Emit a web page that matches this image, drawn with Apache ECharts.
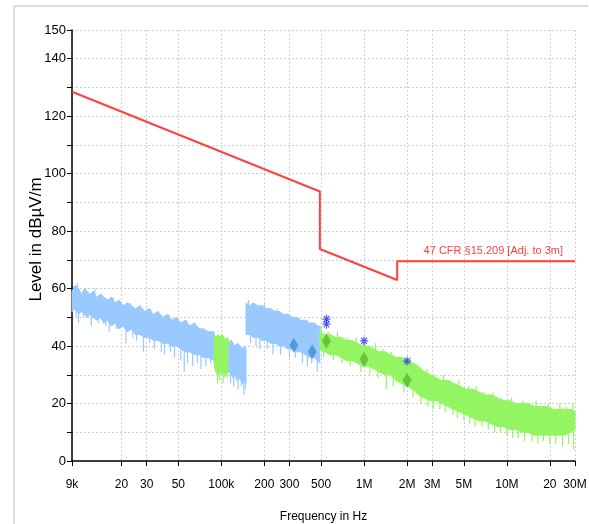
<!DOCTYPE html>
<html><head><meta charset="utf-8">
<script src="https://cdn.jsdelivr.net/npm/echarts@6/dist/echarts.min.js"></script>
<style>html,body{margin:0;padding:0;background:#fff;overflow:hidden;}#c{width:589px;height:524px;}</style>
</head><body><div id="c"></div>
<script>
// ---- axis ticks ----
const xTickFreqs  = [9e3, 2e4, 3e4, 5e4, 1e5, 2e5, 3e5, 5e5, 1e6, 2e6, 3e6, 5e6, 1e7, 2e7, 3e7];
const xTickLabels = ['9k','20','30','50','100k','200','300','500','1M','2M','3M','5M','10M','20','30M'];
const yLabelValues = [0, 20, 40, 60, 80, 100, 120, 140, 150];

// ---- limit line (Hz, dBµV/m) ----
const limitFreqs  = [9e3, 490e3, 490e3, 1705e3, 1705e3, 30e6];
const limitLevels = [128.5, 93.8, 73.8, 63.0, 69.5, 69.5];
const limitName = '47 CFR §15.209 [Adj. to 3m]';

// ---- measured spectrum envelopes (kHz, dBµV/m) ----
const blueAFreq = [9, 9.5, 10, 10.5, 11, 11.5, 12, 12.7, 13.4, 14.2, 15, 16, 17, 18, 19.2, 20.5, 22, 23.5, 25, 27, 29, 31, 33.5, 36, 39, 42, 45, 48.5, 52, 56, 60, 65, 70, 75, 81, 89];
const blueAHi   = [59, 61, 60, 58, 60, 59, 58, 59, 57, 58, 57, 56, 57, 55, 56, 54, 55, 54, 53, 54, 52, 53, 51, 52, 50, 51, 49, 50, 48, 49, 47, 48, 46, 46, 45, 45];
const blueALo   = [52, 53, 51, 52, 51, 50, 51, 50, 49, 50, 48, 49, 47, 48, 46, 47, 45, 46, 44, 44, 43, 43, 42, 42, 41, 41, 40, 40, 39, 38, 38, 37, 37, 36, 36, 35];

const greenBFreq = [89, 92, 95, 98, 101, 104, 107, 110, 113];
const greenBHi   = [44, 43, 44, 43, 44, 43, 42, 43, 42];
const greenBLo   = [33, 31, 30, 31, 30, 31, 30, 31, 31];

const blueCFreq = [113, 117, 121, 125, 130, 135, 140, 145, 149];
const blueCHi   = [41, 42, 41, 40, 41, 40, 39, 40, 39];
const blueCLo   = [31, 30, 29, 30, 28, 29, 27, 28, 27];

const blueDFreq = [149, 158, 168, 180, 193, 207, 222, 238, 255, 273, 293, 314, 337, 361, 387, 415, 445, 470, 490];
const blueDHi   = [55, 54, 55, 54, 54, 53, 53, 52, 52, 51, 51, 50, 50, 49, 49, 48, 48, 47, 47];
const blueDLo   = [44, 44, 43, 43, 42, 42, 41, 41, 40, 40, 39, 39, 38, 38, 37, 36, 36, 35, 34];

const greenEFreq = [490, 530, 580, 630, 690, 750, 820, 900, 980, 1070, 1170, 1280, 1400, 1530, 1670, 1830, 2000, 2200, 2400, 2650, 2900, 3200, 3500, 3850, 4250, 4700, 5200, 5750, 6350, 7000, 7750, 8550, 9450, 10400, 11500, 12700, 14000, 15500, 17100, 18900, 20900, 23100, 25500, 28000, 30000];
const greenEHi   = [45, 44, 44, 43, 43, 42, 42, 41, 40, 40, 39, 38, 38, 37, 36, 36, 35, 34, 33, 31, 30, 29, 28, 28, 27, 26, 25, 25, 24, 23, 23, 22, 21, 21, 20, 20, 20, 19, 19, 19, 18, 18, 18, 18, 17];
const greenELo   = [39, 38, 37, 37, 36, 35, 35, 34, 33, 33, 32, 31, 30, 30, 28, 27, 26, 25, 23, 22, 21, 21, 20, 19, 18, 17, 16, 15, 14, 14, 13, 12, 12, 11, 11, 10, 10, 9, 9, 9, 9, 9, 9, 10, 11];

// ---- individual spikes of the spectrum (kHz, base dB, tip dB) ----
const blueSpikeFreq = [9.6, 10, 10.8, 12.3, 13.8, 15.5, 16.4, 18.5, 21.5, 24, 25.5, 28.5, 31.5, 34, 38, 40, 44, 47, 52, 55, 58, 63, 68, 72, 78, 84,
  116, 122, 127, 131, 138, 144, 147,
  160, 175, 186, 210, 230, 260, 300, 330, 370, 400, 430, 470,
  9.3, 9.8, 11.2, 13, 14.6, 17.5, 20, 23, 27, 32, 37, 43, 50, 57, 66, 155, 170, 200, 245, 280, 340, 400, 460];
const blueSpikeBase = [55, 55, 55, 54, 53, 52, 52, 50, 50, 48, 48, 47, 46, 45, 45, 44, 44, 43, 42, 42, 41, 40, 40, 39, 39, 38,
  35, 34, 34, 34, 33, 33, 32,
  47, 46, 46, 45, 44, 43, 42, 41, 40, 39, 39, 38,
  58, 58, 57, 56, 55, 54, 53, 52, 51, 50, 49, 48, 47, 46, 45, 52, 52, 51, 50, 49, 47, 46, 45];
const blueSpikeTip  = [50, 48, 50, 47, 48, 47, 45, 46, 41, 43, 42, 38, 41, 39, 38, 37, 38, 36, 35, 31, 34, 33, 34, 32, 33, 34,
  27, 26, 28, 25, 26, 23, 25,
  41, 40, 39, 39, 37, 37, 36, 36, 34, 33, 34, 31,
  61, 62, 60, 60, 58, 57, 55, 55, 53, 53, 51, 51, 49, 49, 47, 56, 55, 55, 53, 51, 50, 49, 48];

const greenSpikeFreq = [94, 97, 103, 106, 110,
  520, 610, 700, 800, 950, 1100, 1250, 1430, 1600, 1900, 2200, 2500, 2800, 3050, 3400, 3700, 4200, 4500, 5000, 5500, 6000, 6700, 7400, 8200, 9000, 10000, 11000, 12000, 13300, 15000, 16500, 18000, 20000, 22000, 24500, 27000, 29300,
  500, 560, 650, 760, 880, 1000, 1200, 1350, 1560, 1750, 2100, 2350, 2750, 3100, 3600, 4000, 4600, 5400, 6100, 6900, 8000, 9200, 10800, 13000, 16000, 19500, 23500, 26000, 29000];
const greenSpikeBase = [34, 34, 34, 34, 34,
  40, 39, 38, 37, 36, 35, 34, 33, 31, 29, 28, 26, 24, 24, 23, 22, 21, 20, 19, 18, 17, 17, 16, 15, 15, 14, 14, 13, 13, 12, 12, 12, 12, 12, 12, 12, 13,
  43, 42, 41, 40, 39, 38, 37, 36, 35, 34, 32, 31, 29, 27, 26, 25, 24, 23, 22, 21, 20, 19, 19, 18, 17, 17, 16, 16, 16];
const greenSpikeTip  = [27, 28, 27, 29, 29,
  36, 35, 34, 33, 31, 30, 29, 25, 26, 24, 22, 20, 19, 18, 18, 17, 16, 15, 14, 13, 12, 12, 11, 10, 10, 9, 8, 8, 7, 7, 6, 7, 6, 6, 5, 6, 4,
  47, 45, 45, 43, 43, 41, 41, 39, 38, 36, 36, 33, 32, 30, 30, 28, 28, 26, 26, 24, 24, 22, 22, 21, 21, 20, 20, 19, 20];

// ---- final measurement markers (kHz, dBµV/m) ----
const qpBlueFreq = [322, 433];
const qpBlueLevel = [40.3, 38.0];
const qpGreenFreq = [545, 1000, 2000];
const qpGreenLevel = [41.8, 35.4, 28.1];
const pkFreq = [545, 545, 1000, 2000];
const pkLevel = [49.4, 47.6, 41.8, 34.8];

const BLUE = '#99c9ff', GREEN = '#94f562';
const FONT = "'Liberation Sans', Arial, sans-serif";
const lg = Math.log10;

function bandSeries(freq, hi, lo, color) {
  const data = [];
  for (let i = 0; i < freq.length - 1; i++) {
    data.push([lg(freq[i] * 1e3), lo[i], hi[i], lg(freq[i + 1] * 1e3), lo[i + 1], hi[i + 1]]);
  }
  return {
    type: 'custom', silent: true, z: 2, data: data,
    encode: { x: [0, 3], y: [1, 2, 4, 5] },
    renderItem: function (params, api) {
      const a = api.coord([api.value(0), api.value(2)]);
      const b = api.coord([api.value(3), api.value(5)]);
      const c = api.coord([api.value(3), api.value(4)]);
      const d = api.coord([api.value(0), api.value(1)]);
      return { type: 'polygon', shape: { points: [a, b, c, d] },
        style: { fill: color, stroke: color, lineWidth: 1 } };
    }
  };
}
function spikeSeries(freq, base, tip, color) {
  return {
    type: 'custom', silent: true, z: 2,
    data: freq.map((f, i) => [lg(f * 1e3), base[i], tip[i]]),
    encode: { x: 0, y: [1, 2] },
    renderItem: function (params, api) {
      const a = api.coord([api.value(0), api.value(1)]);
      const b = api.coord([api.value(0), api.value(2)]);
      return { type: 'line', shape: { x1: a[0], y1: a[1], x2: b[0], y2: b[1] },
        style: { stroke: color, lineWidth: 1.2 } };
    }
  };
}

const starPath = 'path://M4.3 0L5.7 0L5.7 10L4.3 10Z M0 4.3L10 4.3L10 5.7L0 5.7Z M1 2L2 1L9 8L8 9Z M8 1L9 2L2 9L1 8Z';

const chart = echarts.init(document.getElementById('c'));
chart.setOption({
  animation: false,
  backgroundColor: '#fff',
  grid: { left: 72, right: 14, top: 30, bottom: 63, outerBoundsMode: 'none', containLabel: false },
  graphic: [
    { type: 'line', shape: { x1: 14, y1: 6, x2: 588, y2: 6 }, style: { stroke: '#dcdcdc', lineWidth: 2 } },
    { type: 'line', shape: { x1: 14, y1: 6, x2: 14, y2: 524 }, style: { stroke: '#dcdcdc', lineWidth: 2 } }
  ],
  xAxis: {
    type: 'value',
    min: lg(9e3), max: lg(3e7),
    name: 'Frequency in Hz', nameLocation: 'middle', nameGap: 50, nameMoveOverlap: false,
    nameTextStyle: { fontFamily: FONT, fontSize: 12, color: '#000' },
    axisLine: { show: true, onZero: false, lineStyle: { color: '#000', width: 1.5 } },
    axisTick: { show: true, length: 5, customValues: xTickFreqs.map(lg), lineStyle: { color: '#000' } },
    axisLabel: {
      customValues: xTickFreqs.map(lg),
      fontFamily: FONT, fontSize: 12, color: '#000', margin: 18,
      formatter: function (v) {
        let best = 0, bd = 1e9;
        xTickFreqs.forEach((f, i) => { const d = Math.abs(lg(f) - v); if (d < bd) { bd = d; best = i; } });
        return xTickLabels[best];
      }
    },
    splitLine: { show: true, lineStyle: { color: '#cfcfcf', type: [2, 2] } }
  },
  yAxis: {
    type: 'value', min: 0, max: 150, interval: 10,
    name: 'Level in dBµV/m', nameLocation: 'middle', nameGap: 27, nameMoveOverlap: false,
    nameTextStyle: { fontFamily: FONT, fontSize: 17, color: '#000', padding: [0, 0, 0, 12] },
    axisLine: { show: true, lineStyle: { color: '#000', width: 1.5 } },
    axisTick: { show: true, length: 5, lineStyle: { color: '#000' } },
    axisLabel: {
      fontFamily: FONT, fontSize: 13, color: '#000', margin: 6,
      formatter: function (v) { return yLabelValues.indexOf(v) >= 0 ? String(v) : ''; }
    },
    splitLine: { show: true, lineStyle: { color: '#cfcfcf', type: [2, 2] } }
  },
  series: [
    bandSeries(blueAFreq, blueAHi, blueALo, BLUE),
    bandSeries(greenBFreq, greenBHi, greenBLo, GREEN),
    bandSeries(blueCFreq, blueCHi, blueCLo, BLUE),
    bandSeries(blueDFreq, blueDHi, blueDLo, BLUE),
    bandSeries(greenEFreq, greenEHi, greenELo, GREEN),
    spikeSeries(blueSpikeFreq, blueSpikeBase, blueSpikeTip, BLUE),
    spikeSeries(greenSpikeFreq, greenSpikeBase, greenSpikeTip, GREEN),
    {
      type: 'line', symbol: 'none', z: 5,
      data: limitFreqs.map((f, i) => [lg(f), limitLevels[i]]),
      lineStyle: { color: '#ff4040', width: 2 },
      markPoint: {
        symbol: 'circle', symbolSize: 0, silent: true,
        data: [{
          coord: [lg(limitFreqs[limitFreqs.length - 1]), limitLevels[limitLevels.length - 1]],
          label: { show: true, formatter: limitName, position: 'top', distance: 5, align: 'right',
            offset: [-12, 0], color: '#ff4040', fontFamily: FONT, fontSize: 11 }
        }]
      }
    },
    {
      type: 'scatter', z: 6, symbol: 'diamond', symbolSize: [9, 15],
      itemStyle: { color: '#3f8fdb' },
      data: qpBlueFreq.map((f, i) => [lg(f * 1e3), qpBlueLevel[i]])
    },
    {
      type: 'scatter', z: 6, symbol: 'diamond', symbolSize: [9, 15],
      itemStyle: { color: '#5cb832' },
      data: qpGreenFreq.map((f, i) => [lg(f * 1e3), qpGreenLevel[i]])
    },
    {
      type: 'scatter', z: 7, symbol: starPath, symbolSize: [8, 9],
      itemStyle: { color: '#2430f0' },
      data: pkFreq.map((f, i) => [lg(f * 1e3), pkLevel[i]])
    }
  ]
});
</script></body></html>
